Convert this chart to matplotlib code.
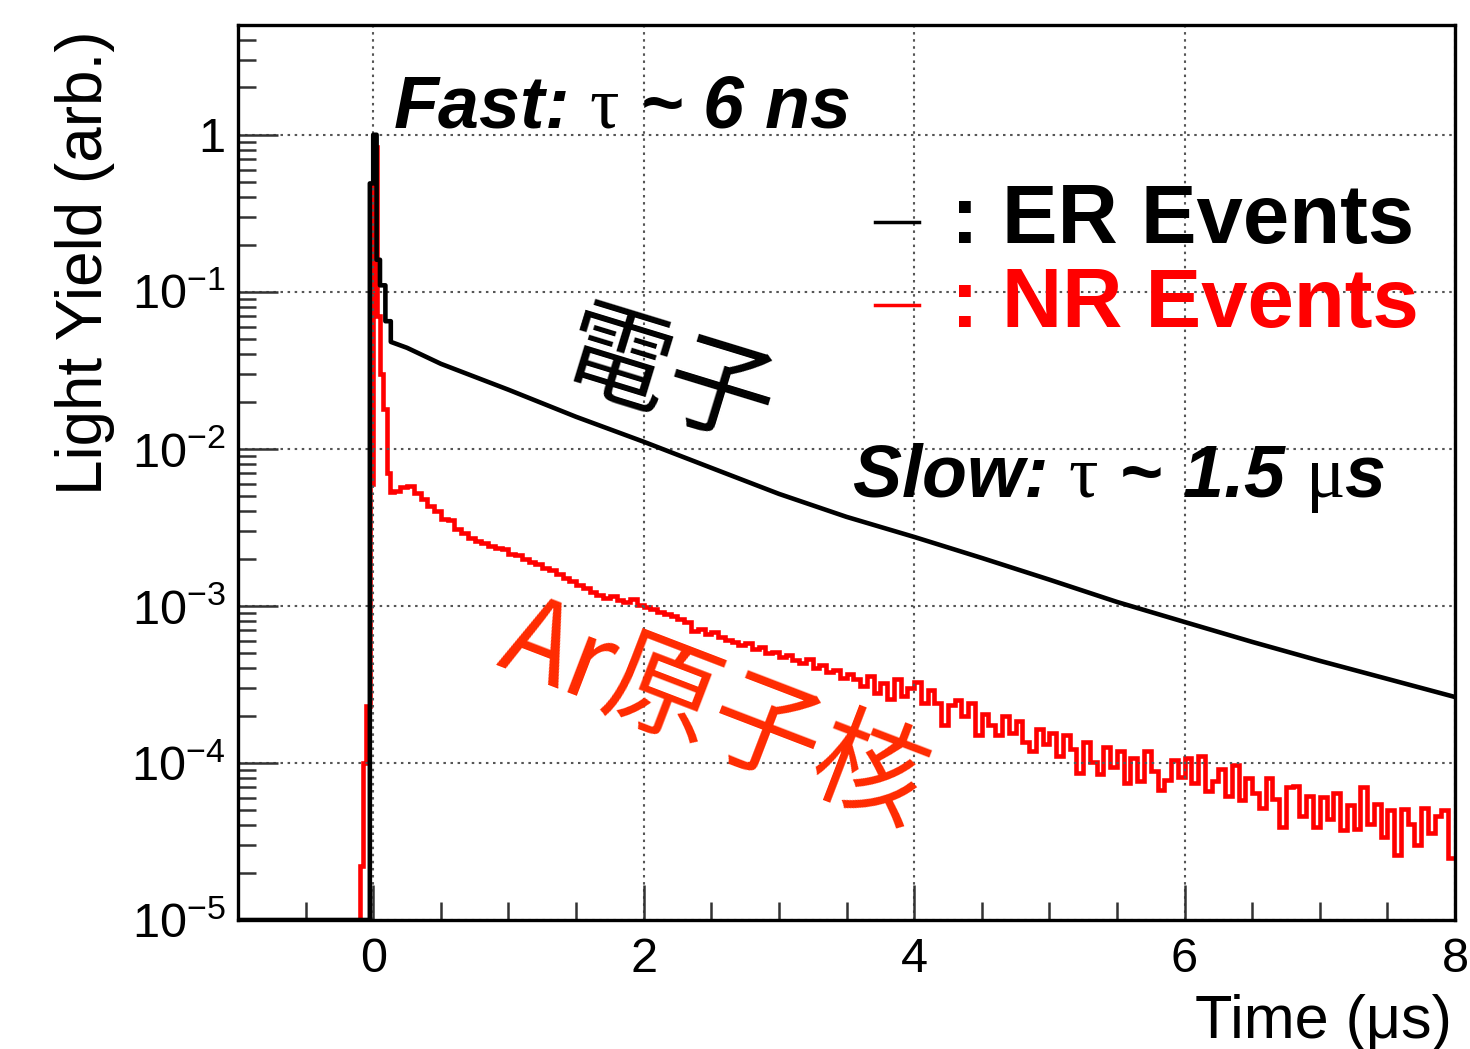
import numpy as np
import matplotlib
matplotlib.use("Agg")
import matplotlib.pyplot as plt
from matplotlib.ticker import MultipleLocator, LogLocator, NullFormatter
from matplotlib.lines import Line2D

plt.rcParams['font.family'] = ['Liberation Sans', 'DejaVu Sans']
plt.rcParams['mathtext.fontset'] = 'custom'
plt.rcParams['mathtext.rm'] = 'Liberation Serif'

# ER events (electron recoil): prompt peak bins, then slow tail
er_peak_edges = [-1.0, -0.025, 0.0, 0.025, 0.05, 0.09, 0.13]
er_peak_vals = [1e-5, 0.49, 1.0, 0.16, 0.11, 0.065]
er_t = [0.13, 0.25, 0.5, 1.0, 1.5, 2.0, 2.5, 3.0, 3.5, 4.0, 4.5, 5.0, 5.5,
        6.0, 6.5, 7.0, 7.5, 8.0]
er_y = [0.048, 0.044, 0.0348, 0.0238, 0.016, 0.0111, 0.00757, 0.00517,
        0.00369, 0.00275, 0.00202, 0.00147, 0.00106, 0.00079, 0.00059,
        0.000447, 0.000343, 0.000263]

# NR events (nuclear recoil): prompt peak bins, then 0.05 us bins from 0.15 to 8
nr_peak_edges = [-1.0, -0.1, -0.075, -0.05, -0.025, 0.0, 0.025, 0.05, 0.075, 0.1, 0.125, 0.15]
nr_peak_vals = [1e-5, 2.2e-5, 1.0e-4, 2.3e-4, 6e-3, 0.83, 0.07, 0.03, 0.018, 0.007, 0.0053]
nr_tail = [
    0.0054, 0.0057, 0.0058, 0.0052, 0.0048, 0.0043, 0.0040, 0.0036, 0.0035, 0.0031,
    0.0029, 0.0027, 0.0026, 0.0025, 0.0024, 0.00235, 0.0023, 0.00215, 0.0021, 0.0020,
    0.0019, 0.00185, 0.00175, 0.0017, 0.0016, 0.0015, 0.00145, 0.00135, 0.0013, 0.00122,
    0.00118, 0.00112, 0.00116, 0.00109, 0.00106, 0.0011, 0.00102, 0.00099, 0.00096, 0.00092,
    0.00089, 0.00086, 0.00083, 0.00079, 0.00069, 0.00071, 0.00066, 0.00068, 0.00063, 0.00061,
    0.00059, 0.00056, 0.00058, 0.00053, 0.00055, 0.00050, 0.00051, 0.00047, 0.00049, 0.00045,
    0.00043, 0.00046, 0.00040, 0.00042, 0.00038, 0.00039, 0.00035, 0.00037, 0.00034,
    3.1e-4, 3.6e-4, 2.8e-4, 3.25e-4, 2.55e-4, 3.4e-4, 2.65e-4, 3.0e-4,
    3.3e-4, 2.4e-4, 2.9e-4, 2.4e-4, 1.75e-4, 2.35e-4, 2.5e-4, 2.0e-4, 2.4e-4, 1.5e-4,
    2.05e-4, 1.75e-4, 1.5e-4, 2.0e-4, 1.55e-4, 1.85e-4, 1.35e-4, 1.2e-4, 1.65e-4, 1.32e-4,
    1.55e-4, 1.1e-4, 1.5e-4, 1.22e-4, 8.6e-5, 1.36e-4, 1.02e-4, 8.5e-5, 1.27e-4, 9.4e-5,
    1.2e-4, 7.5e-5, 1.08e-4, 7.7e-5, 1.19e-4, 8.9e-5, 6.7e-5, 7.8e-5, 1.05e-4, 8.1e-5,
    1.07e-4, 7.4e-5, 1.1e-4, 6.6e-5, 7.7e-5, 9.1e-5, 6.2e-5, 9.7e-5, 5.8e-5, 8.0e-5,
    6.4e-5, 5.2e-5, 8.0e-5, 5.9e-5, 3.9e-5, 7.0e-5, 7.1e-5, 4.6e-5, 6.2e-5, 3.9e-5,
    6.1e-5, 4.4e-5, 6.4e-5, 3.75e-5, 5.4e-5, 3.8e-5, 7.0e-5, 4.1e-5, 5.5e-5, 3.4e-5,
    5.0e-5, 2.6e-5, 5.1e-5, 4.1e-5, 3.0e-5, 5.2e-5, 3.6e-5, 4.6e-5, 5.0e-5, 2.5e-5]

x_major = [0, 2, 4, 6, 8]
y_major = [1e-5, 1e-4, 1e-3, 1e-2, 1e-1, 1]
y_labels = [r'$\mathregular{10^{-5}}$', r'$\mathregular{10^{-4}}$', r'$\mathregular{10^{-3}}$',
            r'$\mathregular{10^{-2}}$', r'$\mathregular{10^{-1}}$', '1']

W, H = 1470, 1049


def fx(x):
    return x / W


def fy(y):
    return 1 - y / H


fig = plt.figure(figsize=(14.7, 10.49), dpi=100)
ax = fig.add_axes([fx(238), fy(920), fx(1455) - fx(238), fy(25) - fy(920)])

# NR histogram
nr_tail_edges = np.linspace(0.15, 8.0, len(nr_tail) + 1)
nr_edges = np.concatenate([nr_peak_edges, nr_tail_edges[1:]])
nr_vals = np.concatenate([nr_peak_vals, nr_tail])
ax.stairs(nr_vals, nr_edges, color='#ff0000', lw=3.3, baseline=None)

# ER: peak steps followed by the smooth tail
er_x = np.concatenate([np.repeat(er_peak_edges, 2)[1:-1], er_t])
er_v = np.concatenate([np.repeat(er_peak_vals, 2), er_y])
ax.plot(er_x, er_v, color='black', lw=3.3)

ax.set_yscale('log')
ax.set_xlim(-1, 8)
ax.set_ylim(1e-5, 5)

ax.set_xticks(x_major)
ax.set_xticklabels([str(v) for v in x_major])
ax.xaxis.set_minor_locator(MultipleLocator(0.5))
ax.set_yticks(y_major)
ax.set_yticklabels(y_labels)
ax.yaxis.set_minor_locator(LogLocator(base=10, subs=np.arange(2, 10), numticks=20))
ax.yaxis.set_minor_formatter(NullFormatter())

ax.tick_params(which='both', direction='in', top=False, right=False, colors='#333333',
               labelcolor='black', width=1.8)
ax.tick_params(axis='x', which='major', length=25, labelsize=35, pad=12)
ax.tick_params(axis='x', which='minor', length=13)
ax.tick_params(axis='y', which='major', length=29, labelsize=35, pad=9)
ax.tick_params(axis='y', which='minor', length=13)

ax.grid(True, which='major', color='#555555', lw=1.5, linestyle=(0, (1.2, 2.2)))
for s in ax.spines.values():
    s.set_linewidth(2.4)

# axis titles
fig.text(fx(85), fy(30), 'Light Yield (arb.)', rotation=90, ha='center', va='top', fontsize=46)
fig.text(fx(1452), fy(1038), 'Time (\u03bcs)', ha='right', va='baseline', fontsize=44)

# annotations
fig.text(fx(393), fy(128), r'Fast: $\mathrm{\tau}$ ~ 6 ns', fontsize=53,
         fontweight='bold', fontstyle='italic', va='baseline')
fig.text(fx(852), fy(497), r'Slow: $\mathrm{\tau}$ ~ 1.5 $\mathrm{\mu}$s', fontsize=53,
         fontweight='bold', fontstyle='italic', va='baseline')

fig.text(fx(668), fy(382), '電子', family=['Noto Sans CJK JP', 'DejaVu Sans'], fontsize=78,
         rotation=-17, rotation_mode='anchor', ha='center', va='center', color='black')
fig.text(fx(714), fy(714), 'Ar原子核', family=['Noto Sans CJK JP', 'DejaVu Sans'], fontsize=80,
         rotation=-21, rotation_mode='anchor', ha='center', va='center', color='#ff2a00')

# hand-made legend
fig.add_artist(Line2D([fx(875), fx(919)], [fy(222), fy(222)], color='black', lw=2.5))
fig.add_artist(Line2D([fx(875), fx(919)], [fy(305), fy(305)], color='#ff0000', lw=2.5))
fig.text(fx(951), fy(243), ': ER Events', fontsize=60, fontweight='bold', color='black', va='baseline')
fig.text(fx(951), fy(327), ': NR Events', fontsize=60, fontweight='bold', color='#ff0000', va='baseline')

fig.savefig('out.png', dpi=100)
